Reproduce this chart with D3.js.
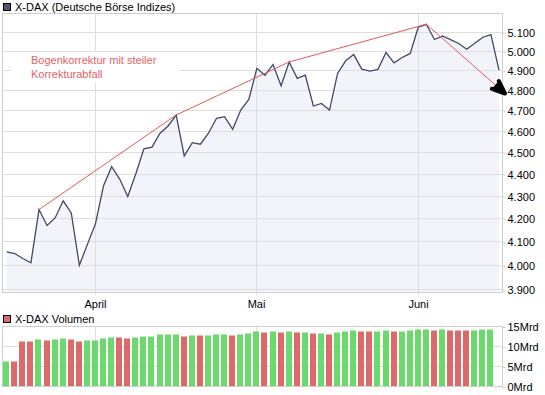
<!DOCTYPE html>
<html>
<head>
<meta charset="utf-8">
<script src="https://cdnjs.cloudflare.com/ajax/libs/d3/7.8.5/d3.min.js"></script>
<style>
body { margin: 0; background: #fff; }
svg { display: block; font-family: "Liberation Sans", Arial, sans-serif; font-size: 11px; }
</style>
</head>
<body>
<svg width="545" height="395"></svg>
<script>

var days = ['17.03.','18.03.','19.03.','20.03.','23.03.','24.03.','25.03.','26.03.','27.03.','30.03.','31.03.',
	'01.04.','02.04.','03.04.','06.04.','07.04.','08.04.','09.04.','14.04.','15.04.','16.04.','17.04.','20.04.','21.04.','22.04.','23.04.','24.04.','27.04.','28.04.','29.04.','30.04.',
	'04.05.','05.05.','06.05.','07.05.','08.05.','11.05.','12.05.','13.05.','14.05.','15.05.','18.05.','19.05.','20.05.','21.05.','22.05.','25.05.','26.05.','27.05.','28.05.','29.05.',
	'01.06.','02.06.','03.06.','04.06.','05.06.','08.06.','09.06.','10.06.','11.06.','12.06.','15.06.'];

var closes = [4057, 4050, 4029, 4011, 4240, 4170, 4203, 4279, 4225, 4001, 4089,
	4178, 4347, 4434, 4377, 4298, 4401, 4517, 4525, 4591, 4626, 4679, 4484, 4546, 4539, 4591, 4663, 4671, 4610, 4703, 4756,
	4912, 4877, 4932, 4824, 4945, 4861, 4877, 4723, 4736, 4703, 4886, 4951, 4983, 4908, 4898, 4907, 4994, 4940, 4968, 4989,
	5128, 5143, 5062, 5081, 5061, 5041, 5011, 5042, 5074, 5088, 4903];

// Mrd, no value yet for the last day
var volumes = [6.25, 6.25, 11.25, 11.25, 11.75, 11.5, 11.75, 12, 11.75, 11.25, 11.5,
	11.5, 12, 12.25, 12.25, 12, 12.25, 12.5, 12.5, 13, 13, 13, 12.5, 12.75, 12.75, 12.75, 13, 13, 12.75, 13, 13.25,
	13.75, 13.5, 13.75, 13.5, 13.75, 13.5, 13.5, 13.25, 13.25, 13, 13.5, 13.75, 14, 13.75, 13.75, 13.75, 14, 13.75, 13.75, 14,
	14.25, 14.25, 14, 14.25, 14, 14, 14, 14, 14.25, 14.25];

var priceTicks = [3900, 4000, 4100, 4200, 4300, 4400, 4500, 4600, 4700, 4800, 4900, 5000, 5100];
var volumeTicks = [0, 5, 10, 15];
var monthDays = ['01.04.', '04.05.', '01.06.'];
var monthNames = ['April', 'Mai', 'Juni'];

// hand drawn trend line (day position, level)
var trendPos = [4, 21, 35, 52, 61.75];
var trendVals = [4240, 4679, 4945, 5143, 4785];


var svg = d3.select('svg'),
	de = d3.formatLocale({decimal: ',', thousands: '.', grouping: [3], currency: ['', ' €']}),
	fmt = de.format(',d');

var left = 2.5, right = 502.5,
	top1 = 13.5, bottom1 = 292.5,
	top2 = 326.5, bottom2 = 386.5;

var x = d3.scaleLinear().domain([0, days.length - 1]).range([6.7, 499]);
var y = d3.scaleLog().domain([3889, 5201]).range([bottom1, top1]);
var yv = d3.scaleLinear().domain([0, 15]).range([bottom2, top2]);

function crisp(v) { return Math.round(v - 0.5) + 0.5; }

var monthX = monthDays.map(function (d) { return crisp(x(days.indexOf(d))); });


/*
	price panel
*/
svg.append('rect').attr('x', left).attr('y', top1).attr('width', right - left).attr('height', bottom1 - top1)
	.style('fill', '#fff');

var area = d3.area()
	.x(function (d, i) { return x(i); })
	.y0(bottom1)
	.y1(function (d) { return y(d); });

svg.append('path').datum(closes).attr('d', area).style('fill', '#f3f4fa');

svg.append('g').selectAll('line').data(priceTicks).join('line')
	.attr('x1', left).attr('x2', right)
	.attr('y1', function (d) { return crisp(y(d)); })
	.attr('y2', function (d) { return crisp(y(d)); })
	.style('stroke', '#dedede');

svg.append('g').selectAll('line').data(monthX).join('line')
	.attr('x1', function (d) { return d; }).attr('x2', function (d) { return d; })
	.attr('y1', top1).attr('y2', bottom1 + 3)
	.style('stroke', '#dedede');

svg.append('rect').attr('x', left).attr('y', top1).attr('width', right - left).attr('height', bottom1 - top1)
	.style('fill', 'none').style('stroke', '#cfcfcf');

// y axis on the right
var yAxis = d3.axisRight(y).tickValues(priceTicks).tickFormat(fmt).tickSize(3).tickPadding(2);
var gy = svg.append('g').attr('transform', 'translate(' + right + ',0.5)').call(yAxis);
gy.select('.domain').remove();
gy.selectAll('.tick line').style('stroke', '#cfcfcf');
gy.selectAll('text').style('font-size', '11px').style('font-family', '"Liberation Sans", Arial, sans-serif').attr('fill', '#000');

// month labels
svg.append('g').selectAll('text').data(monthNames).join('text')
	.attr('x', function (d, i) { return monthX[i]; })
	.attr('y', bottom1 + 15)
	.attr('text-anchor', 'middle')
	.text(function (d) { return d; });

// annotation text with its white box
var note = svg.append('g');
var noteText = note.append('text').style('fill', '#e06464');
noteText.append('tspan').attr('x', 31).attr('y', 64).text('Bogenkorrektur mit steiler');
noteText.append('tspan').attr('x', 31).attr('y', 78).text('Korrekturabfall');
var bb = noteText.node().getBBox();
note.insert('rect', 'text')
	.attr('x', bb.x - 20).attr('y', bb.y - 2)
	.attr('width', bb.width + 42).attr('height', bb.height + 4)
	.style('fill', '#fff');

// price line
var line = d3.line()
	.x(function (d, i) { return x(i); })
	.y(function (d) { return y(d); });

svg.append('path').datum(closes).attr('d', line)
	.style('fill', 'none').style('stroke', '#3f4a68').style('stroke-width', 1.3);

// trend line
var trend = trendPos.map(function (p, i) { return [x(p), y(trendVals[i])]; });
svg.append('path').attr('d', d3.line()(trend))
	.style('fill', 'none').style('stroke', '#e05a5a').style('stroke-width', 1);

/*
	arrow head
*/
var tip = trend[trend.length - 1],
	prev = trend[trend.length - 2],
	ang = Math.atan2(prev[1] - tip[1], prev[0] - tip[0]),
	len = 14;
var arm1 = [tip[0] + len * Math.cos(ang + 0.38), tip[1] + len * Math.sin(ang + 0.38)],
	arm2 = [tip[0] + len * Math.cos(ang - 0.38), tip[1] + len * Math.sin(ang - 0.38)];
svg.append('path').attr('d', d3.line()([arm1, tip, arm2]))
	.style('fill', '#000').style('stroke', '#000').style('stroke-width', 4)
	.style('stroke-linejoin', 'round').style('stroke-linecap', 'round');

// legend
svg.append('rect').attr('x', 3.5).attr('y', 3.5).attr('width', 7).attr('height', 7)
	.style('fill', '#4b5672').style('stroke', '#000');
svg.append('text').attr('x', 15).attr('y', 11).text('X-DAX (Deutsche Börse Indizes)');


/*
	volume panel
*/
svg.append('rect').attr('x', left).attr('y', top2).attr('width', right - left).attr('height', bottom2 - top2)
	.style('fill', '#fff');

svg.append('g').selectAll('line').data(volumeTicks).join('line')
	.attr('x1', left).attr('x2', right)
	.attr('y1', function (d) { return crisp(yv(d)); })
	.attr('y2', function (d) { return crisp(yv(d)); })
	.style('stroke', '#dedede');

svg.append('g').selectAll('line').data(monthX).join('line')
	.attr('x1', function (d) { return d; }).attr('x2', function (d) { return d; })
	.attr('y1', top2).attr('y2', bottom2)
	.style('stroke', '#dedede');

svg.append('g').selectAll('rect').data(volumes).join('rect')
	.attr('x', function (d, i) { return Math.round(x(i) - 3.5); })
	.attr('y', function (d) { return yv(d); })
	.attr('width', 6)
	.attr('height', function (d) { return yv(0) - yv(d); })
	.style('fill', function (d, i) {
		return (i === 0 || closes[i] >= closes[i - 1]) ? '#6cd96c' : '#dc6a6a';
	});

svg.append('rect').attr('x', left).attr('y', top2).attr('width', right - left).attr('height', bottom2 - top2)
	.style('fill', 'none').style('stroke', '#cfcfcf');

var vAxis = d3.axisRight(yv).tickValues(volumeTicks)
	.tickFormat(function (d) { return d + 'Mrd'; }).tickSize(3).tickPadding(2);
var gv = svg.append('g').attr('transform', 'translate(' + right + ',0.5)').call(vAxis);
gv.select('.domain').remove();
gv.selectAll('.tick line').style('stroke', '#cfcfcf');
gv.selectAll('text').style('font-size', '11px').style('font-family', '"Liberation Sans", Arial, sans-serif').attr('fill', '#000');

svg.append('rect').attr('x', 3.5).attr('y', 315.5).attr('width', 7).attr('height', 7)
	.style('fill', '#dc6a6a').style('stroke', '#000');
svg.append('text').attr('x', 15).attr('y', 323).text('X-DAX Volumen');

</script>
</body>
</html>
